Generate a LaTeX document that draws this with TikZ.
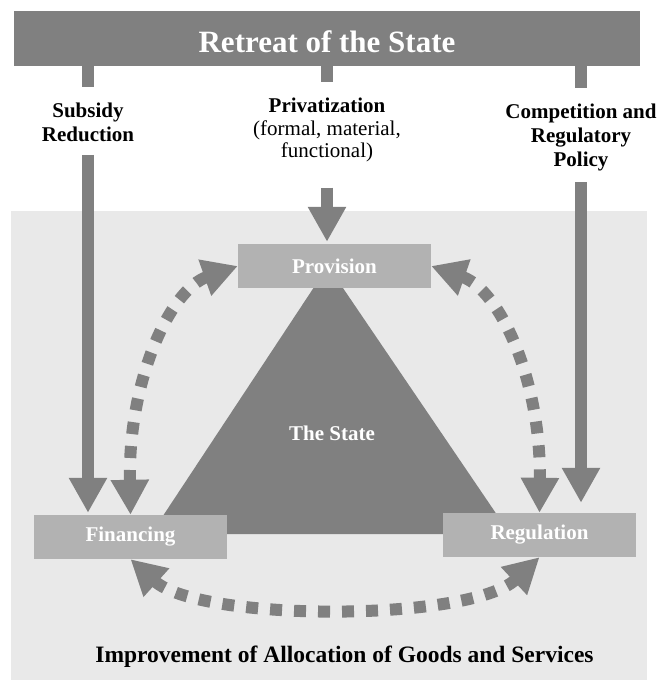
\documentclass[tikz,border=0pt]{standalone}
\usepackage{fontspec}
\setmainfont{Liberation Serif}
\usetikzlibrary{arrows.meta}
\definecolor{dgray}{HTML}{808080}
\definecolor{mgray}{HTML}{B2B2B2}
\definecolor{lgray}{HTML}{E9E9E9}
\begin{document}
\begin{tikzpicture}[x=1pt,y=-1pt,
  box/.style={fill=mgray,minimum width=193pt,minimum height=44pt,text=white,font=\fontsize{21}{24}\selectfont\bfseries},
  lbl/.style={align=center,font=\fontsize{21}{24}\selectfont\bfseries},
  stub/.style={dgray,line width=11.5pt},
  big/.style={dgray,line width=11.5pt,-{Triangle[length=35pt,width=36pt]}},
  dots/.style={dgray,line width=12pt,dash pattern=on 12pt off 12pt,
    {Triangle[length=35pt,width=36pt]}-{Triangle[length=35pt,width=36pt]}}]
\useasboundingbox (0,0) rectangle (660,680);
\fill[lgray] (11,211) rectangle (647,680);
\node[fill=dgray,minimum width=626pt,minimum height=55pt,text=white,text height=27pt,text depth=0pt,
  font=\fontsize{31}{36}\selectfont\bfseries] (retreat) at (327,38.5) {Retreat of the State};
\node[lbl] (subsidy) at (88,122) {Subsidy\\Reduction};
\node[lbl,font=\fontsize{21}{22.5}\selectfont\bfseries] (privat) at (327,130)
  {Privatization\\{\mdseries (formal, material,}\\{\mdseries functional)}};
\node[lbl] (compet) at (581,137) {Competition and\\Regulatory\\Policy};
\fill[dgray] (328,266) -- (151,534) -- (510,534) -- cycle;
\node[text=white,font=\fontsize{21}{24}\selectfont\bfseries] (state) at (332,433) {The State};
\node[box] (provision) at (334.5,266) {Provision};
\node[box] (financing) at (130.5,537) {Financing};
\node[box] (regulation) at (539.5,535) {Regulation};
\draw[stub] (retreat.south -| subsidy) -- ++(0,21);
\draw[stub] (retreat.south -| privat) -- ++(0,16);
\draw[stub] (retreat.south -| compet) -- ++(0,22);
\draw[big,shorten <=10pt,shorten >=2pt] (subsidy.south) -- (subsidy.south |- financing.north);
\draw[big,shorten <=22pt,shorten >=2pt] (privat.south) -- (privat.south |- provision.north);
\draw[big,shorten <=8pt,shorten >=10pt] (compet.south) -- (compet.south |- regulation.north);
\draw[dots] (financing.north) .. controls (128,380) and (170,290) .. (provision.west);
\draw[dots] (provision.east) .. controls (500,290) and (541,380) .. (regulation.north);
\draw[dots] (financing.south) .. controls (200,622) and (470,622) .. (regulation.south);
\node[font=\fontsize{23.5}{28}\selectfont\bfseries] (improve) at (344.5,657)
  {Improvement of Allocation of Goods and Services};
\end{tikzpicture}
\end{document}
